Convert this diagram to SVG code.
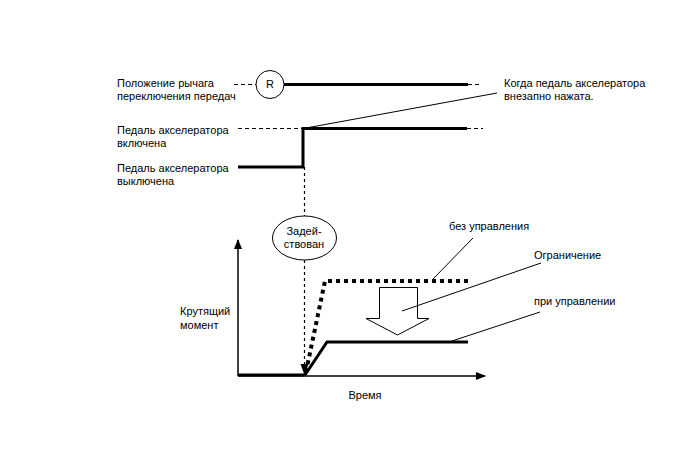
<svg xmlns="http://www.w3.org/2000/svg" width="688" height="463" viewBox="0 0 688 463">
<style>
text{font-family:"Liberation Sans",Arial,sans-serif;font-size:11px;fill:#000}
.thick{stroke:#000;stroke-width:3;fill:none}
.thin{stroke:#000;stroke-width:1;fill:none}
.dash{stroke:#000;stroke-width:1;stroke-dasharray:4 3;fill:none}
.vdash{stroke:#000;stroke-width:1.2;stroke-dasharray:3 3;fill:none}
.dot{stroke:#000;stroke-width:4;stroke-dasharray:4 4;fill:none}
</style>
<defs>
<marker id="ah" markerWidth="10" markerHeight="8" refX="9" refY="4" orient="auto" markerUnits="userSpaceOnUse">
<path d="M0,0 L10,4 L0,8 Z" fill="#000"/>
</marker>
</defs>
<rect width="688" height="463" fill="#fff"/>
<g id="labels">
<text x="117" y="87">Положение рычага</text>
<text x="117" y="100">переключения передач</text>
<text x="117" y="134">Педаль акселератора</text>
<text x="117" y="147">включена</text>
<text x="117" y="172">Педаль акселератора</text>
<text x="117" y="185">выключена</text>
<text x="504" y="87">Когда педаль акселератора</text>
<text x="504" y="100">внезапно нажата.</text>
<text x="180" y="315">Крутящий</text>
<text x="180" y="329">момент</text>
<text x="365" y="399" text-anchor="middle">Время</text>
<text x="449" y="230">без управления</text>
<text x="534" y="259">Ограничение</text>
<text x="534" y="305">при управлении</text>
</g>
<g id="gear-R">
<circle cx="270" cy="84.5" r="14" fill="#fff" stroke="#000" stroke-width="1"/>
<text x="270" y="88" text-anchor="middle">R</text>
</g>
<g id="engaged">
<ellipse cx="304.5" cy="238" rx="32" ry="22" fill="#fff" stroke="#000" stroke-width="1"/>
<text x="304" y="235" text-anchor="middle">Задей-</text>
<text x="304" y="248" text-anchor="middle">ствован</text>
</g>
<g id="restriction-arrow">
<path d="M379.5,287.5 L417.5,287.5 L417.5,318.5 L429,318.5 L397.5,335 L366,318.5 L379.5,318.5 Z" fill="#fff" stroke="#000" stroke-width="1"/>
</g>
<g id="connectors">
<line class="dash" x1="234" y1="84.5" x2="256" y2="84.5"/>
<line class="thick" x1="284" y1="84.5" x2="468" y2="84.5"/>
<line class="dash" x1="468" y1="84.5" x2="482" y2="84.5"/>
<line class="dash" x1="238" y1="128.5" x2="303" y2="128.5"/>
<polyline class="thick" points="238,167 303,167 303,128.5 467,128.5"/>
<line class="dash" x1="467" y1="128.5" x2="483" y2="128.5"/>
<line class="thin" x1="497" y1="93" x2="306" y2="128"/>
<line class="vdash" x1="304.5" y1="167" x2="304.5" y2="216"/>
<line class="vdash" x1="304.5" y1="260" x2="304.5" y2="366"/>
<path d="M300.5,364 L304.5,375 L308.5,364 Z" fill="#000"/>
<line stroke="#000" stroke-width="1.5" x1="238" y1="376" x2="238" y2="240" marker-end="url(#ah)"/>
<line stroke="#000" stroke-width="1.5" x1="238" y1="376" x2="485" y2="376" marker-end="url(#ah)"/>
<line class="thick" x1="238" y1="375" x2="305" y2="375"/>
<polyline class="thick" points="305,375 327,342 468,342"/>
<polyline class="dot" points="306,372 325,281 468,281"/>
<line class="thin" x1="473" y1="238" x2="433" y2="279"/>
<line class="thin" x1="541" y1="263" x2="402" y2="311"/>
<line class="thin" x1="540" y1="312" x2="452" y2="341"/>
</g>
</svg>
